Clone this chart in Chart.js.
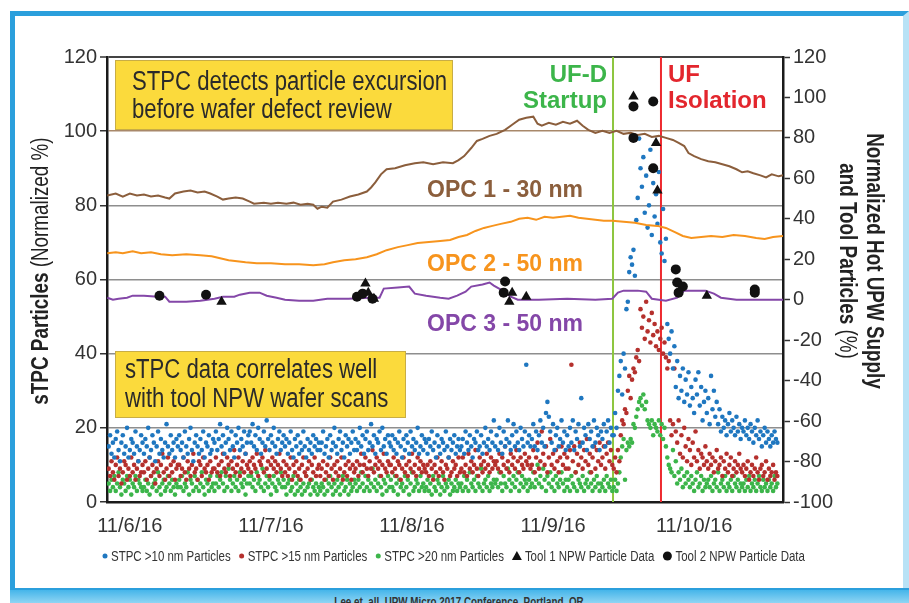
<!DOCTYPE html>
<html>
<head>
<meta charset="utf-8">
<title>sTPC vs NPW</title>
<script src="https://cdn.jsdelivr.net/npm/chart.js@4.4.1/dist/chart.umd.min.js"></script>
<style>
  body { margin:0; width:909px; height:603px; overflow:hidden; position:relative; background:#fff; }
  #marco { position:absolute; left:10px; top:11px; width:899px; height:580px; box-sizing:border-box;
           border-top:5px solid #2b9fdc; border-left:5px solid #2b9fdc; border-right:6px solid #b8e2f6; }
  #pie { position:absolute; left:10px; top:588px; width:899px; height:15px; box-sizing:border-box; overflow:hidden;
         background:linear-gradient(#45b5ea,#8fd5f3); border-top:2px solid #2b9fdc; text-align:center; }
  #pie span { display:inline-block; transform:scaleX(0.82); margin-top:5px;
              font:bold 12px "Liberation Sans", Arial, sans-serif; color:#333; line-height:14px; }
  canvas { position:absolute; left:0; top:0; }
</style>
</head>
<body>
<div id="marco"></div>
<div id="pie"><span>Lee et. all, UPW Micro 2017 Conference, Portland, OR</span></div>
<canvas id="grafico" width="909" height="603"></canvas>
<script>
const SANS = '"Liberation Sans", Arial, sans-serif';
const ESTRECHO = 0.82; // simula Arial Narrow

// eje X: días desde 11/6/16 00:00
const tickLabels = ['11/6/16', '11/7/16', '11/8/16', '11/9/16', '11/10/16'];
const tickDays = [0, 1, 2, 3, 4];
const eventDays = [3.425, 3.765]; // UF-D startup, UF isolation

// sTPC (eje izq., % normalizado), una lectura cada 0.01 día desde -0.15
const stpcStart = -0.15, stpcStep = 0.01;
const stpc10 = [
  15,18,13,16,12,17,19,14,11,16,18,13,15,20,12,14,17,16,13,19,15,11,14,18,16,
  13,17,15,20,12,14,18,16,11,15,19,13,17,14,12,16,21,15,13,18,14,16,12,17,15,
  18,14,16,12,19,15,13,17,20,14,11,16,18,15,13,17,14,19,12,16,15,18,13,14,17,
  16,19,14,17,21,15,18,13,16,20,17,14,19,15,12,18,16,20,14,17,15,19,13,16,18,
  19,16,21,15,18,14,20,17,13,16,19,15,22,17,14,18,16,20,15,13,17,19,14,16,18,
  15,17,13,16,19,14,12,17,15,18,13,16,14,19,15,12,17,14,16,13,18,15,17,14,16,
  14,16,19,13,15,17,12,18,14,16,20,15,13,17,19,14,16,12,18,15,17,13,16,19,14,
  17,14,16,20,15,18,13,17,19,14,16,21,15,18,13,17,16,19,14,20,15,17,13,18,16,
  15,18,14,17,13,16,19,15,12,17,14,18,16,13,19,15,17,14,16,20,13,15,18,14,17,
  16,13,17,15,19,14,16,12,18,15,13,17,16,14,19,15,12,17,14,16,18,13,15,17,14,
  15,17,13,19,16,14,18,15,12,17,16,19,14,15,18,13,16,20,15,17,14,19,16,22,15,
  18,14,20,16,13,19,15,17,22,16,14,18,21,15,19,16,14,20,17,15,19,37,16,18,15,
  17,21,15,19,14,18,22,16,20,15,24,27,23,19,16,21,14,18,20,15,17,22,16,19,14,
  18,15,20,16,22,14,19,17,21,15,28,16,20,18,14,21,17,19,15,22,16,20,18,14,19,
  17,21,15,19,22,16,20,18,18,24,20,30,34,38,29,40,36,52,54,62,66,64,68,61,76,
  82,98,90,85,93,78,88,74,80,95,72,86,77,83,75,89,70,67,79,65,71,48,44,40,46,
  36,42,31,38,28,34,30,36,27,33,29,35,26,31,28,24,33,29,35,26,31,22,27,30,24,
  28,21,34,25,30,23,27,21,25,19,23,20,22,18,21,24,19,22,20,18,23,19,21,17,20,
  19,22,18,20,17,21,19,16,20,18,22,17,19,15,18,20,16,19,17,15,18,16,19,17,16
];
const stpc15 = [
  9,7,11,8,6,10,12,7,9,5,8,11,10,6,9,7,12,8,10,6,9,11,7,8,10,
  8,11,6,9,12,7,10,8,5,9,11,7,10,13,8,6,9,12,7,10,8,11,6,9,10,
  10,7,9,12,8,6,11,9,7,10,13,8,9,6,11,10,7,12,9,8,10,6,11,8,9,
  9,12,8,10,7,11,13,9,8,12,10,7,11,9,14,8,10,12,7,9,11,8,13,10,9,
  11,8,12,10,9,13,7,11,10,12,8,14,9,11,7,10,12,9,11,8,10,13,9,7,11,
  8,10,7,9,12,6,10,8,11,7,9,6,10,12,8,7,9,11,6,10,8,12,7,9,10,
  7,9,11,6,8,10,7,12,9,6,10,8,11,7,9,12,6,8,10,7,11,9,6,10,8,
  9,11,7,10,13,8,10,12,9,7,11,9,14,8,10,12,9,11,7,10,13,9,8,11,10,
  10,8,12,9,7,11,10,6,9,12,8,10,7,11,9,13,8,10,7,12,9,11,8,10,9,
  8,10,7,11,9,6,10,8,12,7,9,11,8,6,10,9,12,7,8,11,9,10,7,12,8,
  9,12,8,10,7,13,9,11,8,10,14,9,7,12,10,8,11,9,13,10,8,12,9,11,10,
  11,9,13,8,12,10,15,9,11,8,13,10,12,9,14,11,8,12,10,9,13,11,10,12,9,
  10,14,8,12,16,9,11,19,13,10,15,8,12,17,10,13,9,14,11,8,12,15,10,13,9,
  12,9,14,37,11,15,8,13,10,16,12,9,14,11,17,10,13,8,12,15,9,14,11,16,10,
  12,15,9,13,16,11,14,10,9,12,8,14,11,18,22,21,25,24,30,34,28,33,36,35,39,
  41,38,52,47,50,44,54,46,49,43,51,45,48,42,46,41,44,47,40,43,39,36,38,22,18,
  21,36,19,16,22,13,18,12,20,15,11,17,14,10,16,12,19,11,14,9,13,12,10,15,11,
  9,13,10,12,8,11,14,9,10,12,7,11,9,13,8,10,12,7,9,11,8,10,13,9,8,
  10,7,9,11,6,8,10,7,9,12,8,6,9,10,7,8,11,6,9,7,8,10,6,8,7
];
const stpc20 = [
  5,3,6,4,7,3,5,8,4,2,6,5,3,7,4,6,2,5,4,7,3,6,5,4,3,
  4,6,3,5,2,7,4,5,6,3,8,4,2,5,6,3,4,7,5,3,6,4,2,5,4,
  6,4,7,3,5,4,8,2,6,5,3,7,4,6,3,5,8,4,2,6,5,3,7,4,5,
  3,5,7,4,6,8,5,3,7,4,9,6,3,5,7,4,6,3,8,5,4,6,2,5,7,
  5,7,4,6,3,8,5,6,4,9,3,5,7,4,6,2,5,7,4,3,6,5,8,4,6,
  4,2,5,6,3,4,7,2,5,3,6,4,2,5,3,7,4,5,2,6,4,3,5,2,4,
  3,5,4,2,6,3,5,7,4,2,5,3,6,4,2,5,7,3,4,6,2,5,3,4,6,
  5,3,6,4,8,5,3,7,4,6,3,5,9,4,6,3,5,7,4,2,6,5,3,7,4,
  6,4,3,7,5,2,6,4,5,3,7,4,6,2,5,8,3,4,6,5,3,7,4,5,3,
  4,6,3,5,2,7,4,3,6,5,2,4,7,3,5,4,6,2,5,3,4,6,3,5,4,
  5,3,7,4,6,3,8,5,4,6,3,7,5,4,9,3,5,6,4,7,3,5,4,6,5,
  6,4,8,5,3,7,5,4,9,6,3,5,7,4,6,8,3,5,7,4,6,5,3,6,4,
  5,8,4,6,10,5,7,4,9,6,3,7,5,8,4,6,3,7,5,4,6,8,5,3,6,
  4,6,3,7,5,4,8,3,6,5,4,7,3,5,6,4,8,5,3,6,4,7,5,3,5,
  4,6,3,7,5,4,6,3,4,6,3,5,8,12,15,17,6,14,16,15,17,16,21,20,23,
  25,27,28,26,29,25,27,22,21,20,22,18,21,20,19,22,18,21,17,20,15,12,10,9,8,
  14,7,11,5,8,6,9,4,7,5,8,6,4,7,5,3,6,8,4,5,7,3,6,4,5,
  6,4,7,3,5,6,4,8,3,5,6,4,7,3,5,4,6,3,7,5,4,6,3,5,4,
  5,3,6,4,7,3,5,4,6,3,5,7,4,3,6,4,5,3,6,4,5,3,7,4,5
];

// OPC (eje der., %)
const opc1Day = [-0.16,-0.10,-0.05,0.00,0.05,0.10,0.15,0.20,0.25,0.28,0.32,0.38,0.43,0.48,0.53,0.57,0.62,0.66,0.70,0.75,
  0.80,0.85,0.88,0.95,1.00,1.05,1.11,1.16,1.21,1.26,1.30,1.33,1.36,1.40,1.44,1.50,1.56,1.62,1.68,1.71,
  1.74,1.78,1.82,1.88,1.95,2.02,2.08,2.15,2.22,2.29,2.33,2.37,2.42,2.46,2.50,2.55,2.60,2.66,2.71,2.76,
  2.81,2.86,2.89,2.92,2.97,3.02,3.07,3.12,3.17,3.21,3.25,3.30,3.35,3.40,3.45,3.50,3.55,3.60,3.65,3.70,
  3.75,3.80,3.85,3.89,3.93,3.96,4.00,4.05,4.10,4.15,4.20,4.25,4.30,4.34,4.38,4.42,4.47,4.51,4.55,4.60,4.63];
const opc1Val = [51.5,52.5,51.0,52.5,51.5,52.0,51.0,51.5,50.5,50.0,52.5,53.5,54.0,53.0,53.5,52.5,51.0,49.5,50.0,50.5,
  50.0,48.5,47.5,48.0,47.5,48.0,47.5,48.0,47.0,47.5,47.0,45.0,46.0,45.5,48.5,49.5,51.0,52.0,53.5,55.5,
  58.0,62.0,64.5,65.0,66.5,67.5,68.0,67.0,68.0,67.5,69.0,71.0,75.0,78.5,79.5,81.0,82.0,84.0,86.5,89.0,
  90.0,90.5,87.0,86.0,87.5,86.5,88.0,87.0,88.5,86.0,84.0,82.5,83.5,82.5,83.5,82.0,82.5,81.5,82.0,80.5,
  81.0,80.0,79.0,77.5,76.0,72.5,71.0,69.5,68.5,68.0,67.0,66.0,64.5,63.0,63.5,62.5,61.5,60.5,62.0,61.0,61.5];
const opc2Day = [-0.16,-0.10,-0.05,0.02,0.08,0.15,0.22,0.30,0.40,0.50,0.58,0.64,0.70,0.76,0.82,0.90,1.00,1.10,1.20,1.30,
  1.38,1.44,1.52,1.60,1.68,1.75,1.82,1.90,1.97,2.04,2.12,2.20,2.27,2.33,2.39,2.45,2.51,2.57,2.63,2.70,
  2.76,2.82,2.88,2.94,3.00,3.06,3.12,3.18,3.24,3.30,3.36,3.42,3.50,3.58,3.66,3.74,3.80,3.86,3.92,3.98,
  4.05,4.12,4.20,4.28,4.36,4.44,4.50,4.56,4.63];
const opc2Val = [23.0,23.5,23.0,24.0,23.0,23.5,22.5,22.0,22.5,22.0,21.5,20.5,19.5,19.0,18.5,18.0,18.0,17.5,17.5,17.0,
  17.5,18.5,19.5,20.0,21.0,22.5,24.5,26.0,27.0,28.0,28.5,29.0,29.5,31.0,32.0,34.0,35.5,36.5,37.5,38.5,
  40.0,40.5,39.5,41.0,40.5,41.0,41.5,40.5,40.0,39.5,39.0,39.0,38.5,38.0,37.0,36.5,35.5,33.5,31.5,30.5,
  31.0,31.5,31.0,32.0,31.5,30.5,30.0,31.0,31.5];
const opc3Day = [-0.16,-0.12,-0.08,-0.02,0.02,0.10,0.20,0.25,0.28,0.40,0.50,0.60,0.66,0.74,0.78,0.85,0.92,0.97,1.04,1.10,
  1.20,1.30,1.40,1.55,1.70,1.77,1.80,1.90,1.98,2.02,2.10,2.20,2.26,2.32,2.38,2.42,2.50,2.55,2.58,2.63,
  2.70,2.75,2.90,3.10,3.30,3.42,3.46,3.50,3.60,3.66,3.70,3.80,3.88,3.93,4.00,4.08,4.14,4.19,4.30,4.45,4.63];
const opc3Val = [1.0,0.0,0.5,1.0,2.0,2.0,1.5,1.5,-1.0,-1.0,-0.5,0.5,1.5,1.5,2.5,3.5,3.5,2.0,1.0,0.0,
  -0.5,-0.5,0.5,0.5,1.0,1.0,5.5,6.0,6.5,3.0,2.0,1.0,0.5,2.0,4.0,6.5,7.5,8.5,7.0,5.0,
  1.5,0.0,0.0,0.5,0.0,0.5,3.5,4.5,4.5,4.0,0.5,-0.5,1.0,4.5,4.5,4.5,3.0,1.0,0.0,0.0,0.0];

// Herramientas NPW (eje der., %)
const tool1Day = [0.65,1.67,1.69,1.73,2.69,2.71,2.81,3.57,3.73,3.74,4.09];
const tool1Val = [-1,8,3.5,0.5,-1,3.5,1.5,100.5,77.5,54,2];
const tool2Day = [0.21,0.54,1.61,1.65,1.72,2.65,2.66,3.57,3.71,3.57,3.71,3.87,3.88,3.92,3.89,4.43,4.43];
const tool2Val = [2,2.5,1.5,3,0.5,3.5,9,95.5,98,80,65,15,8.5,6.5,3.5,5,3.5];

const pares = (xs, ys) => xs.map((x, i) => ({ x, y: ys[i] }));
const lecturas = vals => vals.map((y, i) => ({ x: stpcStart + i * stpcStep, y }));

const tickFont = { family: SANS, size: 20 };

function colorGrid(c) {
    const v = c.tick.value;
    if (v === 120) return '#444';
    if (v === 100) return '#a8886a';
    if (v === 0) return 'rgba(0,0,0,0)';
    return '#8e8e8e';
}

// texto estrecho: escala horizontal 0.82
function estrecho(ctx, t, x, y, font) {
    ctx.save(); ctx.font = font; ctx.translate(x, y); ctx.scale(ESTRECHO, 1);
    ctx.fillText(t, 0, 0); ctx.restore();
    ctx.font = font;
    return ctx.measureText(t).width * ESTRECHO;
}
function ancho(ctx, t, font) { ctx.font = font; return ctx.measureText(t).width * ESTRECHO; }

function titulo(ctx, partes, y) {
    // trozos con distinto peso, centrados en x = 0
    let w = 0;
    partes.forEach(p => { w += ancho(ctx, p[0], p[1]); });
    let cx = -w / 2;
    partes.forEach(p => { cx += estrecho(ctx, p[0], cx, y, p[1]); });
}

const decor = {
    id: 'decor',
    beforeDatasetsDraw(chart) {
        const { ctx, chartArea: a, scales: { x } } = chart;
        ctx.save();
        ['#8dc63f', '#ee2a2f'].forEach((col, i) => {
            const px = x.getPixelForValue(eventDays[i]);
            ctx.strokeStyle = col; ctx.lineWidth = 2;
            ctx.beginPath(); ctx.moveTo(px, a.top); ctx.lineTo(px, a.bottom); ctx.stroke();
        });
        ctx.restore();
    },
    afterDatasetsDraw(chart) {
        const { ctx, scales: { x } } = chart;
        ctx.save();
        ctx.textAlign = 'left'; ctx.textBaseline = 'alphabetic';
        // cajas amarillas
        const cajas = [
            { r: [115, 60, 337, 69], l: ['STPC detects particle excursion', 'before wafer defect review'], tx: 132, ty: [90, 118] },
            { r: [115, 351, 290, 66], l: ['sTPC data correlates well', 'with tool NPW wafer scans'], tx: 125, ty: [378, 407] }
        ];
        cajas.forEach(c => {
            ctx.fillStyle = '#fbda3c'; ctx.fillRect(...c.r);
            ctx.strokeStyle = '#c8ad45'; ctx.lineWidth = 1; ctx.strokeRect(c.r[0] + 0.5, c.r[1] + 0.5, c.r[2], c.r[3]);
            ctx.fillStyle = '#2a2a2a';
            c.l.forEach((t, i) => estrecho(ctx, t, c.tx, c.ty[i], `27px ${SANS}`));
        });
        // etiquetas OPC
        ctx.font = `bold 23px ${SANS}`;
        [['OPC 1 - 30 nm', '#8b5e3c', 197], ['OPC 2 - 50 nm', '#f7941d', 271], ['OPC 3 - 50 nm', '#8447a8', 331]]
            .forEach(([t, col, y]) => { ctx.fillStyle = col; ctx.fillText(t, 427, y); });
        // eventos
        ctx.font = `bold 24px ${SANS}`;
        const g = x.getPixelForValue(eventDays[0]), r = x.getPixelForValue(eventDays[1]);
        ctx.fillStyle = '#3cb54a'; ctx.textAlign = 'right';
        ctx.fillText('UF-D', g - 6, 82); ctx.fillText('Startup', g - 6, 108);
        ctx.fillStyle = '#e3262d'; ctx.textAlign = 'left';
        ctx.fillText('UF', r + 7, 82); ctx.fillText('Isolation', r + 7, 108);
        ctx.restore();
    },
    afterDraw(chart) {
        const { ctx } = chart;
        ctx.save();
        ctx.fillStyle = '#222'; ctx.textBaseline = 'middle'; ctx.textAlign = 'left';
        const B = `bold 23px ${SANS}`, N = `23px ${SANS}`;
        ctx.translate(42, 271); ctx.rotate(-Math.PI / 2);
        titulo(ctx, [['sTPC Particles ', B], ['(Normalized %)', N]], 0);
        ctx.setTransform(1, 0, 0, 1, 0, 0);
        ctx.translate(873, 261); ctx.rotate(Math.PI / 2);
        titulo(ctx, [['Normalized Hot UPW Supply', B]], 0);
        titulo(ctx, [['and Tool Particles ', B], ['(%)', N]], 27);
        ctx.setTransform(1, 0, 0, 1, 0, 0);
        // leyenda
        const items = [
            ['STPC >10 nm Particles', '#1f77c0', 'dot'], ['STPC >15 nm Particles', '#b5302d', 'dot'],
            ['STPC >20 nm Particles', '#3cb54a', 'dot'], ['Tool 1 NPW Particle Data', '#111', 'tri'],
            ['Tool 2 NPW Particle Data', '#111', 'circ']
        ];
        const LF = `14px ${SANS}`;
        let lx = 102; const ly = 556;
        items.forEach(([t, col, s]) => {
            ctx.fillStyle = col; ctx.beginPath();
            if (s === 'dot') { ctx.arc(lx + 3, ly, 2.5, 0, 2 * Math.PI); lx += 9; }
            else if (s === 'tri') { ctx.moveTo(lx + 5, ly - 5); ctx.lineTo(lx + 10, ly + 4); ctx.lineTo(lx, ly + 4); ctx.closePath(); lx += 13; }
            else { ctx.arc(lx + 5, ly, 4.5, 0, 2 * Math.PI); lx += 13; }
            ctx.fill();
            ctx.fillStyle = '#333';
            lx += estrecho(ctx, t, lx, ly + 1, LF) + 8;
        });
        ctx.restore();
    }
};

new Chart(document.getElementById('grafico'), {
    type: 'scatter',
    data: {
        datasets: [
            { label: 'Tool 2 NPW Particle Data', data: pares(tool2Day, tool2Val), yAxisID: 'y1', pointStyle: 'circle', pointRadius: 5, backgroundColor: '#111', borderColor: '#111', borderWidth: 0 },
            { label: 'Tool 1 NPW Particle Data', data: pares(tool1Day, tool1Val), yAxisID: 'y1', pointStyle: 'triangle', pointRadius: 6, backgroundColor: '#111', borderColor: '#111', borderWidth: 0 },
            { label: 'OPC 1 - 30 nm', data: pares(opc1Day, opc1Val), yAxisID: 'y1', showLine: true, borderColor: '#8b5e3c', borderWidth: 2, pointRadius: 0 },
            { label: 'OPC 2 - 50 nm', data: pares(opc2Day, opc2Val), yAxisID: 'y1', showLine: true, borderColor: '#f7941d', borderWidth: 2, pointRadius: 0 },
            { label: 'OPC 3 - 50 nm', data: pares(opc3Day, opc3Val), yAxisID: 'y1', showLine: true, borderColor: '#8447a8', borderWidth: 2, pointRadius: 0 },
            { label: 'STPC >10 nm Particles', data: lecturas(stpc10), yAxisID: 'y', pointRadius: 2.3, backgroundColor: '#1f77c0', borderWidth: 0 },
            { label: 'STPC >15 nm Particles', data: lecturas(stpc15), yAxisID: 'y', pointRadius: 2.3, backgroundColor: '#b5302d', borderWidth: 0 },
            { label: 'STPC >20 nm Particles', data: lecturas(stpc20), yAxisID: 'y', pointRadius: 2.3, backgroundColor: '#3cb54a', borderWidth: 0 }
        ]
    },
    options: {
        responsive: false, animation: false, devicePixelRatio: 1,
        layout: { padding: { top: 57, left: 0, right: 0, bottom: 0 } },
        plugins: { legend: { display: false }, tooltip: { enabled: false } },
        scales: {
            x: {
                type: 'linear', min: -0.162, max: 4.63,
                grid: { display: false }, border: { color: '#1a1a1a', width: 2.5 },
                afterBuildTicks: s => { s.ticks = tickDays.map(v => ({ value: v })); },
                ticks: { autoSkip: false, maxRotation: 0, padding: 4, color: '#333', font: tickFont, callback: (v, i) => tickLabels[i] },
                afterFit: s => { s.height = 101; }
            },
            y: {
                position: 'left', min: 0, max: 120,
                ticks: { stepSize: 20, padding: 3, color: '#333', font: tickFont },
                grid: { color: colorGrid, lineWidth: c => c.tick.value === 120 ? 2 : 1.5, tickColor: '#333', tickLength: 7, tickWidth: 1.5 },
                border: { color: '#1a1a1a', width: 2.5 },
                afterFit: s => { s.width = 107; }
            },
            y1: {
                position: 'right', min: -100, max: 120,
                ticks: { stepSize: 20, padding: 3, color: '#333', font: tickFont },
                grid: { drawOnChartArea: false, tickColor: '#333', tickLength: 7, tickWidth: 1.5 },
                border: { color: '#1a1a1a', width: 2.5 },
                afterFit: s => { s.width = 126; }
            }
        }
    },
    plugins: [decor]
});
</script>
</body>
</html>
